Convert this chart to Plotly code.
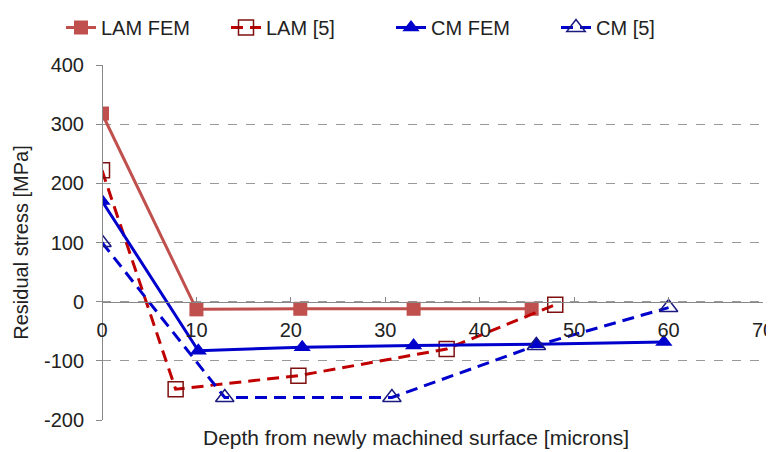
import plotly.graph_objects as go

# Data
lam_fem_x = [0, 10, 21, 33, 45.5]
lam_fem_y = [318, -13, -12, -12, -12]
lam_ref_x = [0, 7.8, 20.8, 36.5, 48]
lam_ref_y = [222, -148, -125, -80, -5]
cm_fem_x = [0, 10.2, 21.2, 33, 46, 59.5]
cm_fem_y = [170, -83, -77, -74, -72, -68]
cm_ref_x = [0, 13, 30.7, 46, 60]
cm_ref_y = [100, -162, -162, -74, -10]

x_ticks = [0, 10, 20, 30, 40, 50, 60, 70]
y_ticks = [-200, -100, 0, 100, 200, 300, 400]
y_tick_labels = ["-200", "-100", "0", "100", "200", "300", "400"]

FONT = "Liberation Sans, Arial, sans-serif"

fig = go.Figure()
fig.add_trace(go.Scatter(
    x=lam_fem_x, y=lam_fem_y, name="LAM FEM", mode="lines+markers",
    line=dict(color="#C0504D", width=3),
    marker=dict(symbol="square", size=14, color="#C0504D"),
))
fig.add_trace(go.Scatter(
    x=lam_ref_x, y=lam_ref_y, name="LAM [5]", mode="lines+markers",
    line=dict(color="#C00000", width=3, dash="12px,7px"),
    marker=dict(symbol="square-open", size=15, color="#7F1010", line=dict(width=1.5)),
))
fig.add_trace(go.Scatter(
    x=cm_fem_x, y=cm_fem_y, name="CM FEM", mode="lines+markers",
    line=dict(color="#0000CC", width=3),
    marker=dict(symbol="triangle-up", size=15, color="#0000CC"),
))
fig.add_trace(go.Scatter(
    x=cm_ref_x, y=cm_ref_y, name="CM [5]", mode="lines+markers",
    line=dict(color="#0000CC", width=3, dash="12px,7px"),
    marker=dict(symbol="triangle-up-open", size=16, color="#1A1A80", line=dict(width=1.5)),
))

fig.update_layout(
    width=766, height=444,
    margin=dict(l=94, r=11, t=57, b=32, autoexpand=False),
    paper_bgcolor="white", plot_bgcolor="white",
    font=dict(family=FONT, size=20, color="#222222"),
    showlegend=True,
    legend=dict(orientation="h", xref="container", x=53 / 766, xanchor="left",
                yref="container", y=1.0, yanchor="top",
                font=dict(size=20), entrywidth=120, entrywidthmode="pixels",
                bgcolor="rgba(0,0,0,0)"),
    xaxis=dict(
        range=[0, 70], tickvals=x_ticks, anchor="free", position=1 / 3,
        showline=True, linecolor="#888888", linewidth=1,
        ticks="inside", ticklen=5, tickcolor="#888888",
        showgrid=False, zeroline=False, automargin=False,
        tickfont=dict(size=20), ticklabelstandoff=10, ticklabeloverflow="allow",
    ),
    yaxis=dict(
        range=[-200, 400], tickvals=y_ticks, ticktext=y_tick_labels,
        anchor="free", position=0,
        showline=True, linecolor="#888888", linewidth=1,
        ticks="outside", ticklen=6, tickcolor="#888888",
        showgrid=True, gridcolor="#999999", griddash="dash", gridwidth=1,
        zeroline=False, automargin=False, tickfont=dict(size=20),
        ticklabelstandoff=8,
        title=dict(text="Residual stress [MPa]", font=dict(size=20), standoff=8),
    ),
    annotations=[dict(
        text="Depth from newly machined surface [microns]",
        xref="paper", yref="paper", x=0.475, y=-0.048, xanchor="center", yanchor="middle",
        showarrow=False, font=dict(size=21, family=FONT),
    )],
)

fig.write_html("out.html")
